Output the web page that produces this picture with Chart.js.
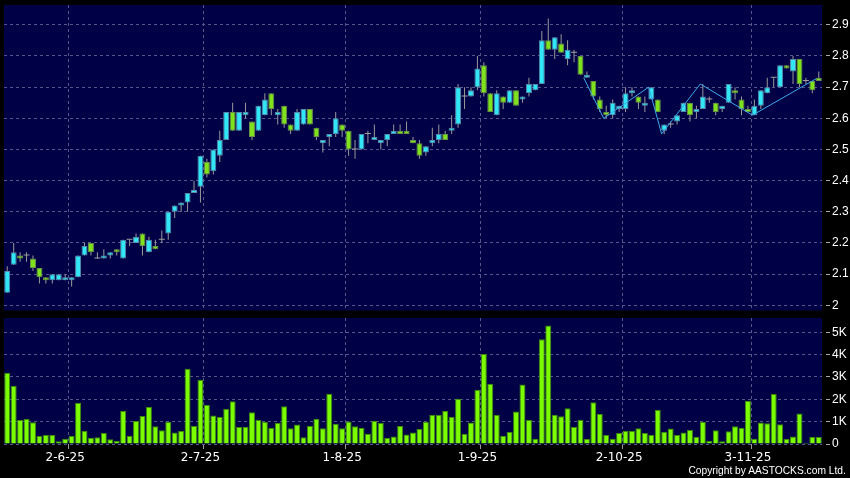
<!DOCTYPE html>
<html><head><meta charset="utf-8">
<script src="https://cdn.jsdelivr.net/npm/chart.js@4.4.0/dist/chart.umd.min.js"></script>
<style>
html,body{margin:0;padding:0;background:#000;width:850px;height:478px;overflow:hidden;}
#c1{position:absolute;left:0;top:0;width:850px;height:312px;}
#c2{position:absolute;left:0;top:312px;width:850px;height:166px;}
#copy{position:absolute;right:4px;top:464px;color:#fff;font:11.5px "Liberation Sans";line-height:13px;white-space:nowrap;transform:scaleX(0.89);transform-origin:right top;}
</style></head><body>
<canvas id="c1" width="850" height="312"></canvas>
<canvas id="c2" width="850" height="166"></canvas>
<div id="copy">Copyright by AASTOCKS.com Ltd.</div>
<script>
// ---- data ----
const tickIdx = [9, 30, 52, 73, 95, 115];
const tickLabels = ['2-6-25', '2-7-25', '1-8-25', '1-9-25', '2-10-25', '3-11-25'];
const priceTicks = [2.0, 2.1, 2.2, 2.3, 2.4, 2.5, 2.6, 2.7, 2.8, 2.9];
const volTicks = [0, 1000, 2000, 3000, 4000, 5000];

const open = [2.04,2.13,2.16,2.16,2.15,2.12,2.09,2.08,2.08,2.08,2.08,2.09,2.16,2.20,2.15,2.15,2.16,2.18,2.15,2.21,
2.20,2.23,2.17,2.19,2.21,2.23,2.30,2.32,2.33,2.36,2.38,2.46,2.43,2.48,2.53,2.62,2.56,2.61,2.59,2.56,
2.61,2.68,2.61,2.64,2.58,2.56,2.58,2.63,2.57,2.52,2.54,2.55,2.58,2.56,2.50,2.50,2.55,2.53,2.52,2.53,
2.55,2.56,2.56,2.53,2.52,2.49,2.52,2.53,2.55,2.56,2.58,2.67,2.67,2.70,2.77,2.68,2.61,2.67,2.65,2.69,
2.66,2.68,2.69,2.71,2.85,2.82,2.84,2.79,2.81,2.80,2.73,2.72,2.66,2.62,2.61,2.63,2.63,2.68,2.67,2.64,
2.66,2.66,2.56,2.58,2.59,2.62,2.65,2.62,2.63,2.66,2.65,2.63,2.65,2.69,2.66,2.63,2.61,2.64,2.68,2.73,
2.70,2.77,2.75,2.79,2.72,2.72,2.73];
const high = [2.125,2.20,2.17,2.17,2.16,2.12,2.09,2.10,2.10,2.10,2.09,2.16,2.20,2.20,2.17,2.18,2.17,2.18,2.21,2.21,
2.23,2.23,2.22,2.21,2.24,2.30,2.32,2.33,2.36,2.40,2.48,2.47,2.50,2.56,2.62,2.65,2.62,2.65,2.59,2.64,
2.68,2.68,2.63,2.64,2.58,2.63,2.63,2.63,2.57,2.53,2.55,2.62,2.58,2.56,2.53,2.55,2.56,2.58,2.53,2.55,
2.58,2.58,2.59,2.54,2.53,2.51,2.57,2.58,2.56,2.61,2.71,2.70,2.70,2.80,2.78,2.68,2.69,2.67,2.69,2.69,
2.67,2.73,2.71,2.88,2.92,2.86,2.87,2.85,2.82,2.80,2.75,2.72,2.67,2.64,2.66,2.64,2.70,2.70,2.67,2.67,
2.70,2.66,2.58,2.59,2.61,2.65,2.65,2.64,2.71,2.67,2.65,2.64,2.71,2.70,2.67,2.64,2.66,2.69,2.73,2.73,
2.77,2.77,2.80,2.79,2.73,2.72,2.75];
const low = [2.04,2.13,2.14,2.14,2.11,2.07,2.07,2.07,2.08,2.08,2.06,2.09,2.16,2.16,2.15,2.15,2.15,2.16,2.15,2.19,
2.20,2.16,2.17,2.18,2.20,2.21,2.28,2.30,2.30,2.36,2.33,2.41,2.42,2.46,2.53,2.56,2.56,2.60,2.53,2.56,
2.61,2.61,2.58,2.57,2.55,2.56,2.58,2.58,2.53,2.49,2.51,2.54,2.54,2.48,2.47,2.50,2.52,2.53,2.50,2.51,
2.55,2.55,2.55,2.52,2.47,2.48,2.51,2.52,2.53,2.55,2.57,2.63,2.67,2.69,2.67,2.62,2.61,2.63,2.65,2.64,
2.65,2.67,2.69,2.71,2.82,2.79,2.81,2.77,2.78,2.74,2.73,2.66,2.62,2.60,2.60,2.62,2.62,2.67,2.63,2.62,
2.66,2.62,2.55,2.57,2.58,2.62,2.59,2.60,2.63,2.65,2.61,2.62,2.65,2.66,2.61,2.62,2.61,2.63,2.68,2.70,
2.70,2.76,2.71,2.70,2.71,2.68,2.72];
const close = [2.11,2.17,2.15,2.16,2.12,2.09,2.08,2.10,2.10,2.09,2.09,2.16,2.19,2.17,2.15,2.16,2.17,2.17,2.21,2.21,
2.22,2.19,2.21,2.18,2.21,2.30,2.32,2.33,2.36,2.37,2.48,2.42,2.50,2.53,2.62,2.56,2.62,2.62,2.54,2.64,
2.66,2.63,2.62,2.58,2.56,2.62,2.63,2.58,2.54,2.53,2.55,2.60,2.56,2.50,2.50,2.55,2.55,2.54,2.53,2.55,
2.56,2.55,2.55,2.52,2.48,2.51,2.53,2.55,2.53,2.57,2.70,2.67,2.69,2.76,2.68,2.62,2.68,2.65,2.69,2.64,
2.67,2.71,2.71,2.85,2.82,2.86,2.81,2.82,2.81,2.74,2.74,2.67,2.63,2.61,2.65,2.64,2.68,2.69,2.65,2.65,
2.70,2.62,2.58,2.58,2.61,2.65,2.61,2.63,2.67,2.66,2.62,2.64,2.71,2.68,2.63,2.62,2.64,2.69,2.70,2.73,
2.77,2.76,2.79,2.71,2.72,2.69,2.72];
const volume = [3190,2610,1070,1120,970,360,400,400,120,240,360,1850,580,280,300,490,210,130,1480,370,
1030,1250,1660,790,610,990,510,580,3370,810,2880,1750,1280,1210,1570,1910,760,760,1420,1090,
1000,720,940,1690,700,870,300,810,1130,700,2250,910,700,1010,790,730,460,1040,940,270,
340,810,430,510,670,1000,1310,1310,1480,1220,2030,460,960,2430,4030,2700,1300,370,540,1450,
2660,1070,240,4690,5300,1310,1240,1600,760,1090,220,1870,1340,400,240,490,580,580,700,490,
400,1520,550,690,400,520,630,330,1000,130,610,120,570,790,730,1940,240,960,930,2240,
880,220,340,1370,60,310,310];
// overlay line (light blue zig-zag) vertices: position in trading days, price
const zigX = [89.5, 92.6, 99.6, 101.6, 107.6, 115.7, 125.6];
const zigY = [2.73, 2.60, 2.70, 2.55, 2.71, 2.61, 2.727];

// ---- styling ----
const NAVY = '#000046';
const GRID = '#56568c';
const TXT = '#ffffff';
const idx = open.map((_, i) => i);

const bgPlugin = {
  id: 'bg',
  beforeDraw(chart) {
    const { ctx, chartArea: a } = chart;
    ctx.save();
    ctx.fillStyle = '#000';
    ctx.fillRect(0, 0, chart.width, chart.height);
    ctx.fillStyle = NAVY;
    ctx.fillRect(a.left, a.top, a.right - a.left, a.bottom - a.top);
    ctx.restore();
  }
};

function xAxis(showLabels) {
  return {
    type: 'linear', min: -0.5, max: 126.5, offset: false, display: true,
    afterBuildTicks: s => { s.ticks = tickIdx.map(v => ({ value: v + 0.5 })); },
    afterFit: s => { s.paddingLeft = 0; s.paddingRight = 0; s.height = showLabels ? 34 : 0; },
    ticks: {
      display: showLabels, autoSkip: false, maxRotation: 0, color: TXT,
      font: { family: 'DejaVu Sans', size: 12 }, padding: 2, labelOffset: -3.2,
      callback: (v, i) => tickLabels[i]
    },
    grid: { offset: false, color: GRID, drawTicks: showLabels, tickLength: 5, tickColor: '#9a9a9a', tickBorderDash: [] },
    border: { display: false, dash: [3, 3] }
  };
}

function yAxis(min, max, ticks, fmt) {
  return {
    position: 'right', min, max,
    afterBuildTicks: s => { s.ticks = ticks.map(v => ({ value: v })); },
    afterFit: s => { s.width = 28; s.paddingTop = 0; s.paddingBottom = 0; },
    ticks: { color: TXT, font: { family: 'Liberation Sans', size: 12 }, padding: 2, callback: fmt },
    grid: { color: GRID, tickLength: 8, tickColor: '#aaaaaa', tickBorderDash: [0, 4, 4, 30] },
    border: { display: false, dash: [3, 3] }
  };
}

const isUp = i => close[i] > open[i];
const isDoji = i => close[i] === open[i];

new Chart(document.getElementById('c1'), {
  type: 'bar',
  data: {
    datasets: [
      {
        type: 'line', order: 0,
        data: zigX.map((x, k) => ({ x, y: zigY[k] })),
        borderColor: '#40a8e8', borderWidth: 1, pointRadius: 0, tension: 0
      },
      {
        order: 1, grouped: false, barThickness: 6, minBarLength: 1, inflateAmount: 0,
        data: idx.map(i => ({ x: i, y: [Math.min(open[i], close[i]), Math.max(open[i], close[i])] })),
        backgroundColor: c => isDoji(c.dataIndex) ? '#a0a0a0' : (isUp(c.dataIndex) ? '#33e6f5' : '#80e21c'),
        borderColor: c => isUp(c.dataIndex) ? '#5888a8' : '#689048',
        borderWidth: c => isDoji(c.dataIndex) ? 0 : 1,
        borderSkipped: false
      },
      {
        order: 2, grouped: false, barThickness: 1, inflateAmount: 0,
        data: idx.map(i => ({ x: i, y: [low[i], high[i]] })),
        backgroundColor: '#9a9a9a', borderWidth: 0
      }
    ]
  },
  options: {
    responsive: false, animation: false, events: [],
    layout: { padding: { left: 4, top: 5, right: 0, bottom: 1.5 } },
    plugins: { legend: { display: false }, tooltip: { enabled: false } },
    scales: {
      x: xAxis(false),
      y: yAxis(1.9833, 2.9635, priceTicks, v => String(Math.round(v * 10) / 10))
    }
  },
  plugins: [bgPlugin]
});

new Chart(document.getElementById('c2'), {
  type: 'bar',
  data: {
    datasets: [{
      grouped: false, barThickness: 6, inflateAmount: 0,
      data: idx.map(i => ({ x: i, y: volume[i] })),
      backgroundColor: '#7cfc00', borderColor: '#3c8c0c', borderWidth: 1
    }]
  },
  options: {
    responsive: false, animation: false, events: [],
    layout: { padding: { left: 4, top: 6, right: 0, bottom: 0 } },
    plugins: { legend: { display: false }, tooltip: { enabled: false } },
    scales: {
      x: xAxis(true),
      y: yAxis(0, 5640, volTicks, v => v === 0 ? '0' : (v / 1000) + 'K')
    }
  },
  plugins: [bgPlugin]
});
</script>
</body></html>
